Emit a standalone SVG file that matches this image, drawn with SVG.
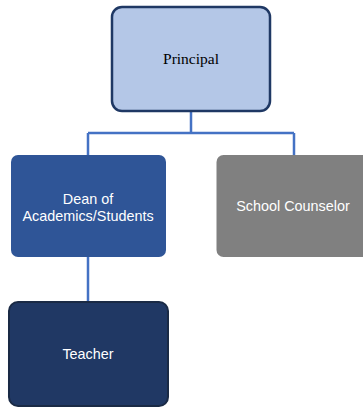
<svg xmlns="http://www.w3.org/2000/svg" width="363" height="407" viewBox="0 0 363 407">
<style>
.conn{stroke:#4472c4;stroke-width:2.5;fill:none}
.lbl{font-family:"Liberation Sans","Open Sans",sans-serif;font-size:14.4px;fill:#ffffff;text-anchor:middle}
</style>
<rect width="363" height="407" fill="#ffffff"/>
<g id="connectors">
<path class="conn" d="M191 112V133M88 133H294M88 133V155M294 133V155M88 257V301"/>
</g>
<g id="principal">
<rect x="112" y="7" width="158" height="104" rx="10" fill="#b4c7e7" stroke="#1f3864" stroke-width="2.5"/>
<text x="191" y="64" font-family="Liberation Serif,serif" font-size="15.5" fill="#000" text-anchor="middle">Principal</text>
</g>
<g id="dean">
<rect x="11" y="155" width="155" height="102" rx="7" fill="#2f5597"/>
<text class="lbl" x="88" y="204">Dean of</text>
<text class="lbl" x="88" y="221">Academics/Students</text>
</g>
<g id="counselor">
<rect x="216.5" y="155" width="155" height="102" rx="7" fill="#808080"/>
<text class="lbl" x="293" y="211">School Counselor</text>
</g>
<g id="teacher">
<rect x="9" y="302" width="159" height="104" rx="9" fill="#203864" stroke="#1a2a45" stroke-width="2"/>
<text class="lbl" x="88" y="359">Teacher</text>
</g>
</svg>
